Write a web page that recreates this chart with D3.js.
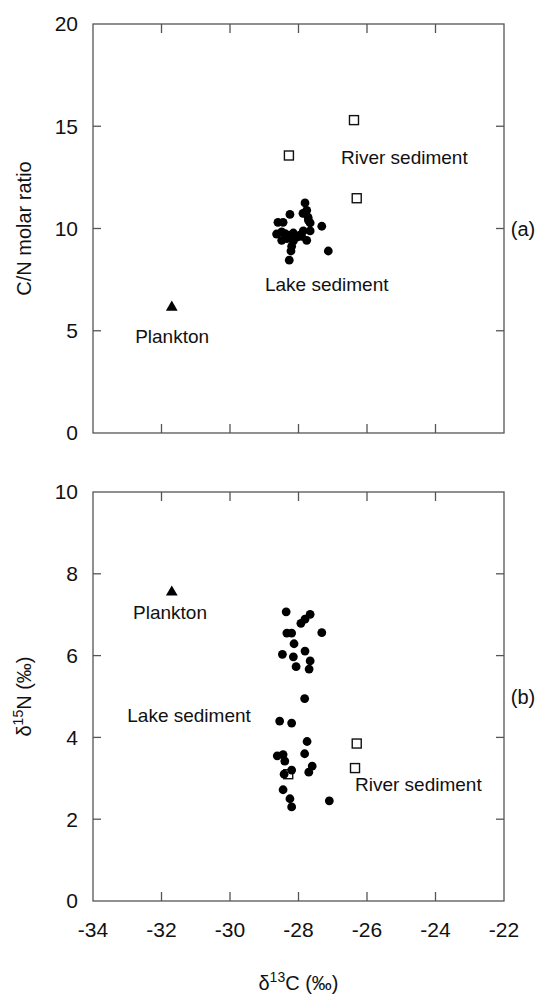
<!DOCTYPE html>
<html lang="en">
<head>
<meta charset="UTF-8">
<title>C/N and d15N vs d13C</title>
<script src="https://cdn.jsdelivr.net/npm/d3@7"></script>
<style>
  body { margin: 0; background: #fff; }
  text { font-family: "Liberation Sans", Arial, sans-serif; fill: #111; }
</style>
</head>
<body>
<div id="chart"></div>
<script>
// x ticks shared by both panels
const xTicks = [-34, -32, -30, -28, -26, -24, -22];
const cnTicks = [0, 5, 10, 15, 20];
const nTicks = [0, 2, 4, 6, 8, 10];

// panel (a): d13C vs C/N molar ratio
const lakeCN = [
  [-27.81, 11.25], [-27.76, 10.89], [-28.25, 10.69], [-27.87, 10.74], [-27.72, 10.55],
  [-27.71, 10.40], [-27.66, 10.27], [-27.32, 10.11], [-28.60, 10.30], [-28.45, 10.30],
  [-28.64, 9.73], [-28.49, 9.83], [-28.39, 9.75], [-28.25, 9.67], [-28.15, 9.78],
  [-28.05, 9.58], [-28.49, 9.42], [-28.34, 9.51], [-27.91, 9.62], [-28.15, 9.39],
  [-27.86, 9.88], [-27.96, 9.67], [-27.66, 9.88], [-27.76, 9.42], [-28.20, 9.13],
  [-28.22, 8.90], [-28.27, 8.45], [-27.13, 8.90]
];
const riverCN = [[-26.38, 15.3], [-28.28, 13.57], [-26.3, 11.48]];
const planktonCN = [[-31.7, 6.15]];

// panel (b): d13C vs d15N
const lakeN = [
  [-28.36, 7.07], [-27.66, 7.01], [-27.81, 6.89], [-27.93, 6.79], [-28.34, 6.55],
  [-28.20, 6.55], [-27.32, 6.56], [-28.13, 6.29], [-28.47, 6.03], [-28.15, 5.97],
  [-27.81, 6.11], [-27.66, 5.87], [-28.07, 5.73], [-27.69, 5.67],
  [-27.82, 4.95], [-28.55, 4.40], [-28.20, 4.35], [-27.75, 3.90], [-28.62, 3.55],
  [-28.45, 3.58], [-28.40, 3.42], [-27.82, 3.60], [-27.60, 3.30], [-27.70, 3.15],
  [-28.42, 3.10], [-28.20, 3.20], [-28.45, 2.72], [-28.25, 2.50], [-28.20, 2.30],
  [-27.10, 2.45]
];
const riverN = [[-26.3, 3.85], [-26.35, 3.25], [-28.3, 3.1]];
const planktonN = [[-31.7, 7.55]];

const W = 554, H = 996;
const left = 93, right = 504;

const svg = d3.select("#chart").append("svg")
  .attr("width", W).attr("height", H);

const x = d3.scaleLinear().domain([-34, -22]).range([left, right]);

function panel(top, bottom, yDomain, yTicks, lake, river, plankton, labels, tag, showX) {
  const y = d3.scaleLinear().domain(yDomain).range([bottom, top]);
  const g = svg.append("g");

  // frame
  g.append("rect")
    .attr("x", left).attr("y", top)
    .attr("width", right - left).attr("height", bottom - top)
    .attr("fill", "none").attr("stroke", "#555").attr("stroke-width", 1.3);

  // inward ticks on all four sides
  const inner = d3.range(1, xTicks.length - 1).map(i => xTicks[i]);
  g.selectAll(".xb").data(inner).enter().append("line")
    .attr("x1", d => x(d)).attr("x2", d => x(d))
    .attr("y1", bottom).attr("y2", bottom - 9)
    .attr("stroke", "#555").attr("stroke-width", 1.3);
  g.selectAll(".xt").data(inner).enter().append("line")
    .attr("x1", d => x(d)).attr("x2", d => x(d))
    .attr("y1", top).attr("y2", top + 9)
    .attr("stroke", "#555").attr("stroke-width", 1.3);
  const yin = yTicks.slice(1, -1);
  g.selectAll(".yl").data(yin).enter().append("line")
    .attr("x1", left).attr("x2", left + 8)
    .attr("y1", d => y(d)).attr("y2", d => y(d))
    .attr("stroke", "#555").attr("stroke-width", 1.3);
  g.selectAll(".yr").data(yin).enter().append("line")
    .attr("x1", right).attr("x2", right - 8)
    .attr("y1", d => y(d)).attr("y2", d => y(d))
    .attr("stroke", "#555").attr("stroke-width", 1.3);

  // y tick labels
  g.selectAll(".ylab").data(yTicks).enter().append("text")
    .attr("x", 78).attr("y", d => y(d))
    .attr("dy", "0.35em")
    .attr("text-anchor", "end")
    .style("font-size", "21px")
    .text(d => d);

  if (showX) {
    g.selectAll(".xlab").data(xTicks).enter().append("text")
      .attr("x", d => x(d)).attr("y", bottom + 29)
      .attr("dy", "0.35em")
      .attr("text-anchor", "middle")
      .style("font-size", "21px")
      .text(d => d);
  }

  // river sediment: open squares
  g.selectAll(".river").data(river).enter().append("rect")
    .attr("x", d => x(d[0]) - 4.5).attr("y", d => y(d[1]) - 4.5)
    .attr("width", 9).attr("height", 9)
    .attr("fill", "#fff").attr("stroke", "#111").attr("stroke-width", 1.4);

  // lake sediment: filled circles
  g.selectAll(".lake").data(lake).enter().append("circle")
    .attr("cx", d => x(d[0])).attr("cy", d => y(d[1]))
    .attr("r", 4.4).attr("fill", "#000");

  // plankton: filled triangle
  g.selectAll(".plank").data(plankton).enter().append("path")
    .attr("transform", d => "translate(" + x(d[0]) + "," + y(d[1]) + ")")
    .attr("d", d3.symbol(d3.symbolTriangle, 60))
    .attr("fill", "#000");

  // group labels
  g.selectAll(".grp").data(labels).enter().append("text")
    .attr("x", d => x(d[1])).attr("y", d => y(d[2]))
    .attr("dy", "0.35em")
    .style("font-size", "19px")
    .text(d => d[0]);

  g.append("text")
    .attr("x", 523).attr("y", (top + bottom) / 2)
    .attr("dy", "0.35em").attr("text-anchor", "middle")
    .style("font-size", "20px")
    .text(tag);
  return y;
}

panel(24, 433, [0, 20], cnTicks, lakeCN, riverCN, planktonCN,
  [["River sediment", -26.76, 13.48], ["Lake sediment", -28.98, 7.27], ["Plankton", -32.77, 4.73]],
  "(a)", false);

panel(492, 901, [0, 10], nTicks, lakeN, riverN, planktonN,
  [["Plankton", -32.83, 7.05], ["Lake sediment", -33.0, 4.55], ["River sediment", -26.35, 2.85]],
  "(b)", true);

// axis titles
svg.append("text")
  .attr("transform", "translate(31," + ((24 + 433) / 2) + ") rotate(-90)")
  .attr("text-anchor", "middle")
  .style("font-size", "20px")
  .text("C/N molar ratio");

const yt = svg.append("text")
  .attr("transform", "translate(31," + ((492 + 901) / 2) + ") rotate(-90)")
  .attr("text-anchor", "middle")
  .style("font-size", "20px");
yt.append("tspan").text("δ");
yt.append("tspan").attr("dy", -8).style("font-size", "14px").text("15");
yt.append("tspan").attr("dy", 8).text("N  (‰)");

const xt = svg.append("text")
  .attr("x", (left + right) / 2).attr("y", 990)
  .attr("text-anchor", "middle")
  .style("font-size", "20px");
xt.append("tspan").text("δ");
xt.append("tspan").attr("dy", -8).style("font-size", "14px").text("13");
xt.append("tspan").attr("dy", 8).text("C (‰)");
</script>
</body>
</html>
